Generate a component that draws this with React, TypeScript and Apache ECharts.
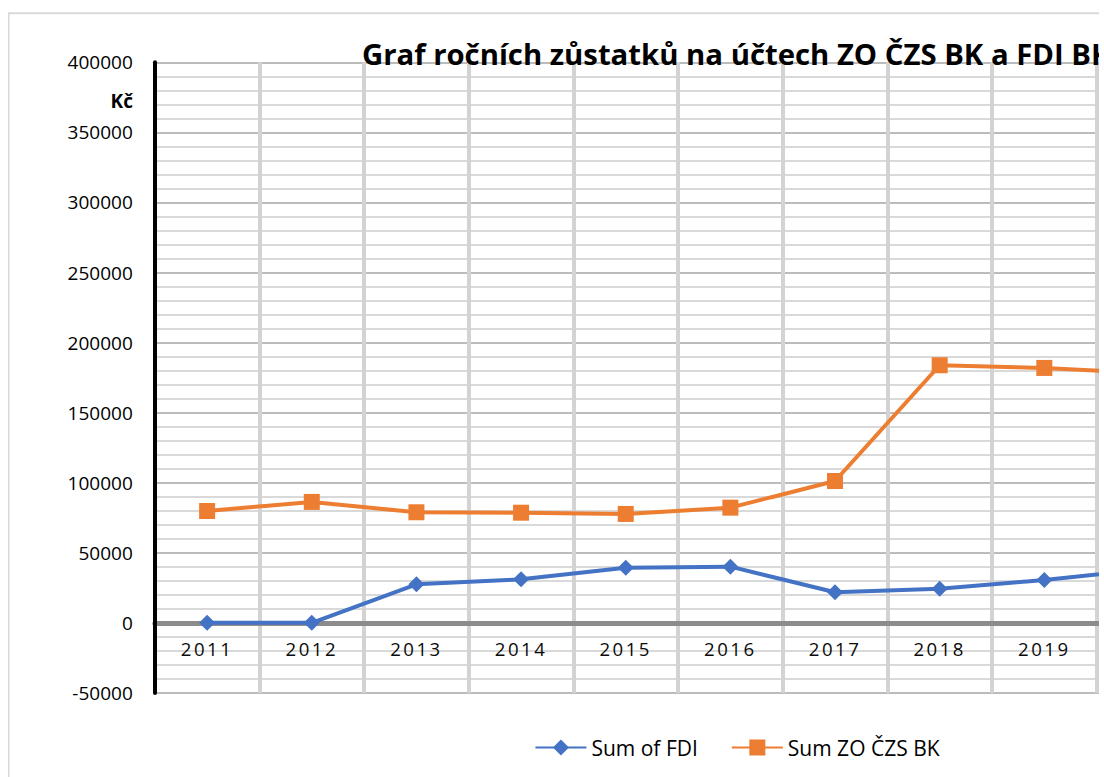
import React, { useEffect, useRef } from 'react';
import * as echarts from 'echarts';

const titleText = 'Graf ročních zůstatků na účtech ZO ČZS BK a FDI BK';
const unitLabel = 'Kč';
const years = ['2011', '2012', '2013', '2014', '2015', '2016', '2017', '2018', '2019', '2020'];
const fdiValues = [0, 0, 27500, 31100, 39300, 40100, 21800, 24400, 30600, 38500];
const zoValues = [79800, 86300, 78900, 78600, 77700, 82200, 101200, 183800, 181900, 178000];
const seriesNames = ['Sum of FDI', 'Sum ZO ČZS BK'];
const yMin = -50000;
const yMax = 400000;
const yStep = 50000;

const FONT = "'Open Sans', sans-serif";
const XLABEL_COLOR = '#0a0a0a';

const GRID_TOP = 54.3;
const GRID_HEIGHT = 630.6;
// distance from the bottom of the plot up to the zero value line
const ZERO_OFFSET = (GRID_HEIGHT * (0 - yMin)) / (yMax - yMin);

export default function App() {
  const ref = useRef<HTMLDivElement>(null);

  useEffect(() => {
    if (!ref.current) return;
    const chart = echarts.init(ref.current, null, { renderer: 'svg' });
    chart.setOption({
      animation: false,
      textStyle: { fontFamily: FONT },
      title: {
        text: titleText,
        left: 354,
        top: 31.5,
        padding: 0,
        textStyle: { fontFamily: FONT, fontSize: 29.3, fontWeight: 'bold', color: '#000' },
      },
      graphic: [
        {
          type: 'rect',
          silent: true,
          z: -10,
          shape: { x: 0.5, y: 5.3, width: 1450, height: 900 },
          style: { fill: 'none', stroke: '#d9d9d9', lineWidth: 2 },
        },
        {
          type: 'text',
          silent: true,
          x: 125,
          y: 92.5,
          style: {
            text: unitLabel,
            fontFamily: FONT,
            fontSize: 19,
            fontWeight: 'bold',
            fill: '#000',
            align: 'right',
            verticalAlign: 'middle',
          },
        },
      ],
      legend: {
        left: 'center',
        top: 729,
        padding: 0,
        itemWidth: 51,
        itemHeight: 20,
        itemGap: 33,
        textStyle: { fontFamily: FONT, fontSize: 21, color: '#000' },
        data: seriesNames,
      },
      grid: { left: 146.8, top: GRID_TOP, width: 1046.5, height: GRID_HEIGHT },
      xAxis: {
        type: 'category',
        data: years,
        boundaryGap: true,
        position: 'bottom',
        offset: -ZERO_OFFSET,
        z: 2,
        axisLine: { onZero: false, lineStyle: { color: '#8c8c8c', width: 5 } },
        axisTick: { show: false },
        axisLabel: {
          fontFamily: FONT,
          fontSize: 18.6,
          color: XLABEL_COLOR,
          margin: 16,
          interval: (i: number) => i < years.length - 1,
        },
        splitLine: { show: true, interval: 0, lineStyle: { color: '#d3d3d3', width: 4 } },
      },
      yAxis: [
        {
          type: 'value',
          min: yMin,
          max: yMax,
          interval: yStep,
          z: 1,
          axisLine: { show: false },
          axisTick: { show: false },
          axisLabel: {
            fontFamily: FONT,
            fontSize: 19,
            color: '#000',
            margin: 22,
            formatter: (v: number) => String(v),
          },
          splitLine: { show: true, lineStyle: { color: '#a6a6a6', width: 1.5 } },
          minorTick: { show: false, splitNumber: 5 },
          minorSplitLine: { show: true, lineStyle: { color: '#d9d9d9', width: 2 } },
        },
        {
          type: 'value',
          min: yMin,
          max: yMax,
          interval: yStep,
          position: 'left',
          z: 3,
          axisLine: { show: true, onZero: false, lineStyle: { color: '#000', width: 4 } },
          axisTick: { show: false },
          axisLabel: { show: false },
          splitLine: { show: false },
        },
      ],
      series: [
        {
          name: seriesNames[0],
          type: 'line',
          data: fdiValues,
          symbol: 'diamond',
          symbolSize: 16,
          lineStyle: { color: '#4472c4', width: 4 },
          itemStyle: { color: '#4472c4' },
          z: 5,
        },
        {
          name: seriesNames[1],
          type: 'line',
          data: zoValues,
          symbol: 'rect',
          symbolSize: 16,
          lineStyle: { color: '#ed7d31', width: 4 },
          itemStyle: { color: '#ed7d31' },
          z: 5,
        },
      ],
    });
    return () => chart.dispose();
  }, []);

  return (
    <>
      <style>{`text[fill="${XLABEL_COLOR}"]{letter-spacing:2.5px}`}</style>
      <div
        style={{
          position: 'fixed',
          left: 8,
          top: 8,
          width: 1091,
          height: 769,
          overflow: 'hidden',
          background: '#fff',
        }}
      >
        <div ref={ref} style={{ width: 1458, height: 769 }} />
      </div>
    </>
  );
}
